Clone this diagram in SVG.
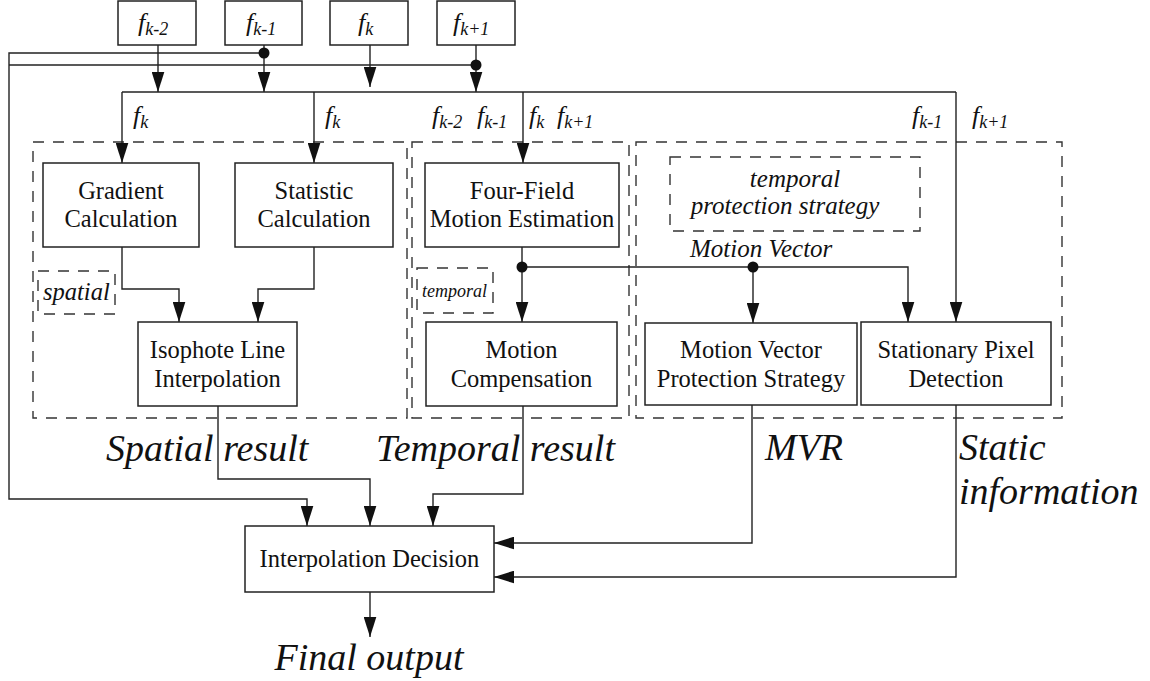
<svg xmlns="http://www.w3.org/2000/svg" width="1150" height="681" viewBox="0 0 1150 681">
<style>
.box{fill:#fff;stroke:#222;stroke-width:1.5}
.grp{fill:none;stroke:#333;stroke-width:1.4;stroke-dasharray:11 9}
.ln{fill:none;stroke:#222;stroke-width:1.4}
.t{font-family:"Liberation Serif","Times New Roman",serif;font-size:24.5px;fill:#111;text-anchor:middle}
.i{font-family:"Liberation Serif","Times New Roman",serif;font-style:italic;fill:#111}
.big{font-size:38px}
.f{font-size:26px}
.s{font-size:18px}
</style>
<defs>
<marker id="ar" markerUnits="userSpaceOnUse" markerWidth="20" markerHeight="13" viewBox="0 0 19 12" refX="19" refY="6" orient="auto">
<path d="M0,0 L19,6 L0,12 z" fill="#111"/>
</marker>
</defs>
<rect width="1150" height="681" fill="#fff"/>

<g id="groups">
<rect class="grp" x="33" y="142" width="374" height="276"/>
<rect class="grp" x="412" y="142" width="217" height="276"/>
<rect class="grp" x="636" y="142" width="426" height="276"/>
<rect class="grp" x="38" y="271" width="77" height="43"/>
<rect class="grp" x="417" y="268" width="76" height="45"/>
<rect class="grp" x="670" y="157" width="250" height="74"/>
</g>

<g id="connectors">
<path class="ln" d="M158 45 V92" marker-end="url(#ar)"/>
<path class="ln" d="M264 45 V92" marker-end="url(#ar)"/>
<path class="ln" d="M370 45 V87" marker-end="url(#ar)"/>
<path class="ln" d="M476 45 V92" marker-end="url(#ar)"/>
<path class="ln" d="M264 53 H9 V499 H307 V526" marker-end="url(#ar)"/>
<path class="ln" d="M9 65 H476"/>
<path class="ln" d="M122 92 H956"/>
<path class="ln" d="M122 92 V163" marker-end="url(#ar)"/>
<path class="ln" d="M314 92 V163" marker-end="url(#ar)"/>
<path class="ln" d="M523 92 V163" marker-end="url(#ar)"/>
<path class="ln" d="M956 92 V322" marker-end="url(#ar)"/>
<path class="ln" d="M122 247 V289 H179 V322" marker-end="url(#ar)"/>
<path class="ln" d="M314 247 V289 H258 V322" marker-end="url(#ar)"/>
<path class="ln" d="M522 247 V322" marker-end="url(#ar)"/>
<path class="ln" d="M522 267 H908 V322" marker-end="url(#ar)"/>
<path class="ln" d="M753 267 V323" marker-end="url(#ar)"/>
<path class="ln" d="M218 406 V479 H370 V526" marker-end="url(#ar)"/>
<path class="ln" d="M523 406 V494 H433 V526" marker-end="url(#ar)"/>
<path class="ln" d="M752 405 V543 H494" marker-end="url(#ar)"/>
<path class="ln" d="M956 405 V577 H494" marker-end="url(#ar)"/>
<path class="ln" d="M370 592 V637" marker-end="url(#ar)"/>
<circle cx="264" cy="53" r="5.5" fill="#111"/>
<circle cx="476" cy="65" r="5.5" fill="#111"/>
<circle cx="522" cy="267" r="5.5" fill="#111"/>
<circle cx="753" cy="267" r="5.5" fill="#111"/>
</g>

<g id="fkm2"><rect class="box" x="118" y="1" width="78" height="44"/><text class="i f" x="138" y="31">f<tspan class="s" dy="4">k-2</tspan></text></g>
<g id="fkm1"><rect class="box" x="225" y="1" width="77" height="44"/><text class="i f" x="246" y="31">f<tspan class="s" dy="4">k-1</tspan></text></g>
<g id="fk"><rect class="box" x="330" y="1" width="78" height="44"/><text class="i f" x="358" y="31">f<tspan class="s" dy="4">k</tspan></text></g>
<g id="fkp1"><rect class="box" x="437" y="1" width="78" height="44"/><text class="i f" x="453" y="31">f<tspan class="s" dy="4">k+1</tspan></text></g>

<g id="gradient"><rect class="box" x="43" y="163" width="156" height="84"/><text class="t" x="121" y="199">Gradient</text><text class="t" x="121" y="227">Calculation</text></g>
<g id="statistic"><rect class="box" x="235" y="163" width="158" height="84"/><text class="t" x="314" y="199">Statistic</text><text class="t" x="314" y="227">Calculation</text></g>
<g id="isophote"><rect class="box" x="138" y="322" width="159" height="84"/><text class="t" x="217.5" y="358">Isophote Line</text><text class="t" x="217.5" y="387">Interpolation</text></g>
<g id="fourfield"><rect class="box" x="425" y="163" width="194" height="84"/><text class="t" x="522" y="199">Four-Field</text><text class="t" x="522" y="227">Motion Estimation</text></g>
<g id="motioncomp"><rect class="box" x="426" y="322" width="191" height="84"/><text class="t" x="521.5" y="358">Motion</text><text class="t" x="521.5" y="387">Compensation</text></g>
<g id="mvps"><rect class="box" x="645" y="323" width="212" height="82"/><text class="t" x="751" y="358">Motion Vector</text><text class="t" x="751" y="387">Protection Strategy</text></g>
<g id="spd"><rect class="box" x="861" y="322" width="190" height="83"/><text class="t" x="956" y="358">Stationary Pixel</text><text class="t" x="956" y="387">Detection</text></g>
<g id="decision"><rect class="box" x="245" y="526" width="249" height="66"/><text class="t" x="369.5" y="567">Interpolation Decision</text></g>

<g id="labels">
<text class="i f" x="133" y="124">f<tspan class="s" dy="4">k</tspan></text>
<text class="i f" x="325" y="124">f<tspan class="s" dy="4">k</tspan></text>
<text class="i f" x="432" y="124">f<tspan class="s" dy="4">k-2</tspan></text>
<text class="i f" x="477" y="124">f<tspan class="s" dy="4">k-1</tspan></text>
<text class="i f" x="529" y="124">f<tspan class="s" dy="4">k</tspan></text>
<text class="i f" x="557" y="124">f<tspan class="s" dy="4">k+1</tspan></text>
<text class="i f" x="912" y="124">f<tspan class="s" dy="4">k-1</tspan></text>
<text class="i f" x="972" y="124">f<tspan class="s" dy="4">k+1</tspan></text>
<text class="i" x="43" y="300" font-size="24.5">spatial</text>
<text class="i" x="422" y="297" font-size="18">temporal</text>
<text class="i" x="795" y="187" font-size="25" text-anchor="middle">temporal</text>
<text class="i" x="785" y="214" font-size="25" text-anchor="middle">protection strategy</text>
<text class="i" x="690" y="257" font-size="25">Motion Vector</text>
<text class="i big" x="106" y="461">Spatial result</text>
<text class="i big" x="376" y="461">Temporal result</text>
<text class="i big" x="765" y="460">MVR</text>
<text class="i big" x="959" y="460">Static</text>
<text class="i big" x="959" y="504">information</text>
<text class="i big" x="369" y="670" text-anchor="middle">Final output</text>
</g>
</svg>
